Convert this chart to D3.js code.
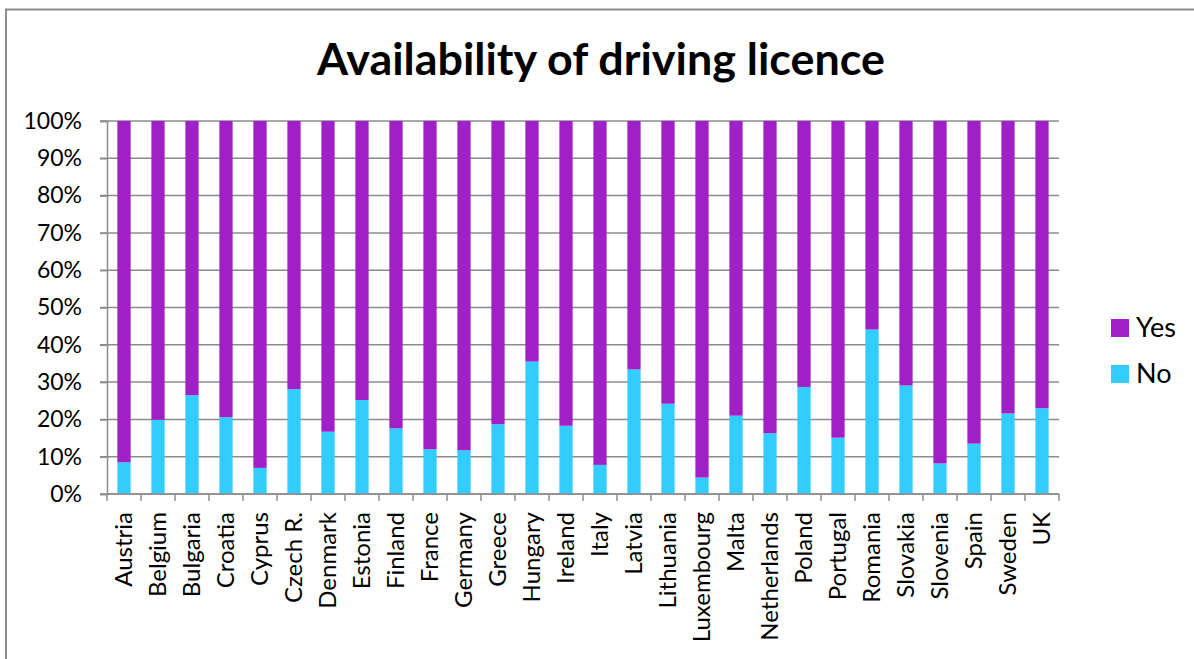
<!DOCTYPE html>
<html>
<head>
<meta charset="utf-8">
<script src="https://cdn.jsdelivr.net/npm/d3@7"></script>
<style>
 html,body{margin:0;padding:0;background:#fff;}
 svg{display:block;font-family:Lato,sans-serif;}
</style>
</head>
<body>
<div id="chart"></div>
<script>
const countries=['Austria','Belgium','Bulgaria','Croatia','Cyprus','Czech R.','Denmark','Estonia','Finland','France','Germany','Greece','Hungary','Ireland','Italy','Latvia','Lithuania','Luxembourg','Malta','Netherlands','Poland','Portugal','Romania','Slovakia','Slovenia','Spain','Sweden','UK'];
const noShare=[8.5,19.9,26.5,20.6,7.0,28.1,16.7,25.2,17.6,12.0,11.7,18.7,35.5,18.3,7.8,33.4,24.2,4.4,21.0,16.3,28.7,15.1,44.1,29.1,8.2,13.5,21.6,23.0];
const yTicks=[0,10,20,30,40,50,60,70,80,90,100];
const seriesNames=['Yes','No'];
const colors={Yes:'#A020C8',No:'#33CCFF'};

(function(){
 const W=1194,H=659;
 const svg=d3.select('#chart').append('svg').attr('width',W).attr('height',H);
 // chart frame
 svg.append('path').attr('d',`M6,${H+2}V9.5H${W+2}`).attr('fill','none').attr('stroke','#8c8c8c').attr('stroke-width',2);
 const title=svg.append('text').attr('x',601).attr('y',75).attr('text-anchor','middle')
   .attr('font-size',40).attr('font-weight','bold').attr('fill','#000').text('Availability of driving licence');
 const tw=title.node().getComputedTextLength();
 title.attr('font-size',40*568/tw);

 const left=107,right=1059,top=121,bottom=494;
 const x=d3.scaleBand().domain(countries).range([left,right]).padding(0);
 const y=d3.scaleLinear().domain([0,100]).range([bottom,top]);
 const data=countries.map((c,i)=>({country:c,No:noShare[i],Yes:100-noShare[i]}));
 const stack=d3.stack().keys(['No','Yes'])(data);

 // gridlines
 svg.append('g').selectAll('line').data(yTicks).enter().append('line')
   .attr('x1',left-7).attr('x2',right).attr('y1',d=>y(d)).attr('y2',d=>y(d))
   .attr('stroke','#8c8c8c').attr('stroke-width',1.5);

 const bw=x.bandwidth()*0.39;
 svg.append('g').selectAll('g').data(stack).enter().append('g').attr('fill',d=>colors[d.key])
   .selectAll('rect').data(d=>d).enter().append('rect')
   .attr('x',d=>x(d.data.country)+(x.bandwidth()-bw)/2).attr('width',bw)
   .attr('y',d=>y(d[1])).attr('height',d=>y(d[0])-y(d[1]));

 // y axis
 const ya=svg.append('g').attr('transform',`translate(${left},0)`)
   .call(d3.axisLeft(y).tickValues(yTicks).tickFormat(d=>d+'%').tickSize(7).tickPadding(18));
 ya.select('.domain').attr('stroke','#8c8c8c').attr('stroke-width',1.5);
 ya.selectAll('.tick line').attr('stroke','#8c8c8c').attr('stroke-width',1.5);
 ya.selectAll('text').attr('font-size',23).attr('fill','#000').attr('font-family','Lato,sans-serif');

 // x axis
 const xa=svg.append('g').attr('transform',`translate(0,${bottom})`)
   .call(d3.axisBottom(x).tickSize(0).tickPadding(0));
 xa.select('.domain').remove();
 xa.selectAll('.tick text').attr('font-size',24).attr('fill','#000').attr('font-family','Lato,sans-serif')
   .attr('transform','rotate(-90)').attr('text-anchor','end').attr('x',-18).attr('y',0).attr('dy','0.35em');
 const xb=svg.append('g');
 xb.append('line').attr('x1',left).attr('x2',right).attr('y1',bottom).attr('y2',bottom).attr('stroke','#8c8c8c').attr('stroke-width',1.5);
 xb.selectAll('line.t').data(d3.range(countries.length+1)).enter().append('line').attr('class','t')
   .attr('x1',i=>left+i*x.step()).attr('x2',i=>left+i*x.step()).attr('y1',bottom).attr('y2',bottom+7)
   .attr('stroke','#8c8c8c').attr('stroke-width',1.5);

 // legend
 const lg=svg.append('g').selectAll('g').data(seriesNames).enter().append('g')
   .attr('transform',(d,i)=>`translate(1111,${319+i*46})`);
 lg.append('rect').attr('width',18).attr('height',18).attr('fill',d=>colors[d]);
 lg.append('text').attr('x',25).attr('y',18).attr('font-size',27).attr('fill','#000').text(d=>d);
})();
</script>
</body>
</html>
